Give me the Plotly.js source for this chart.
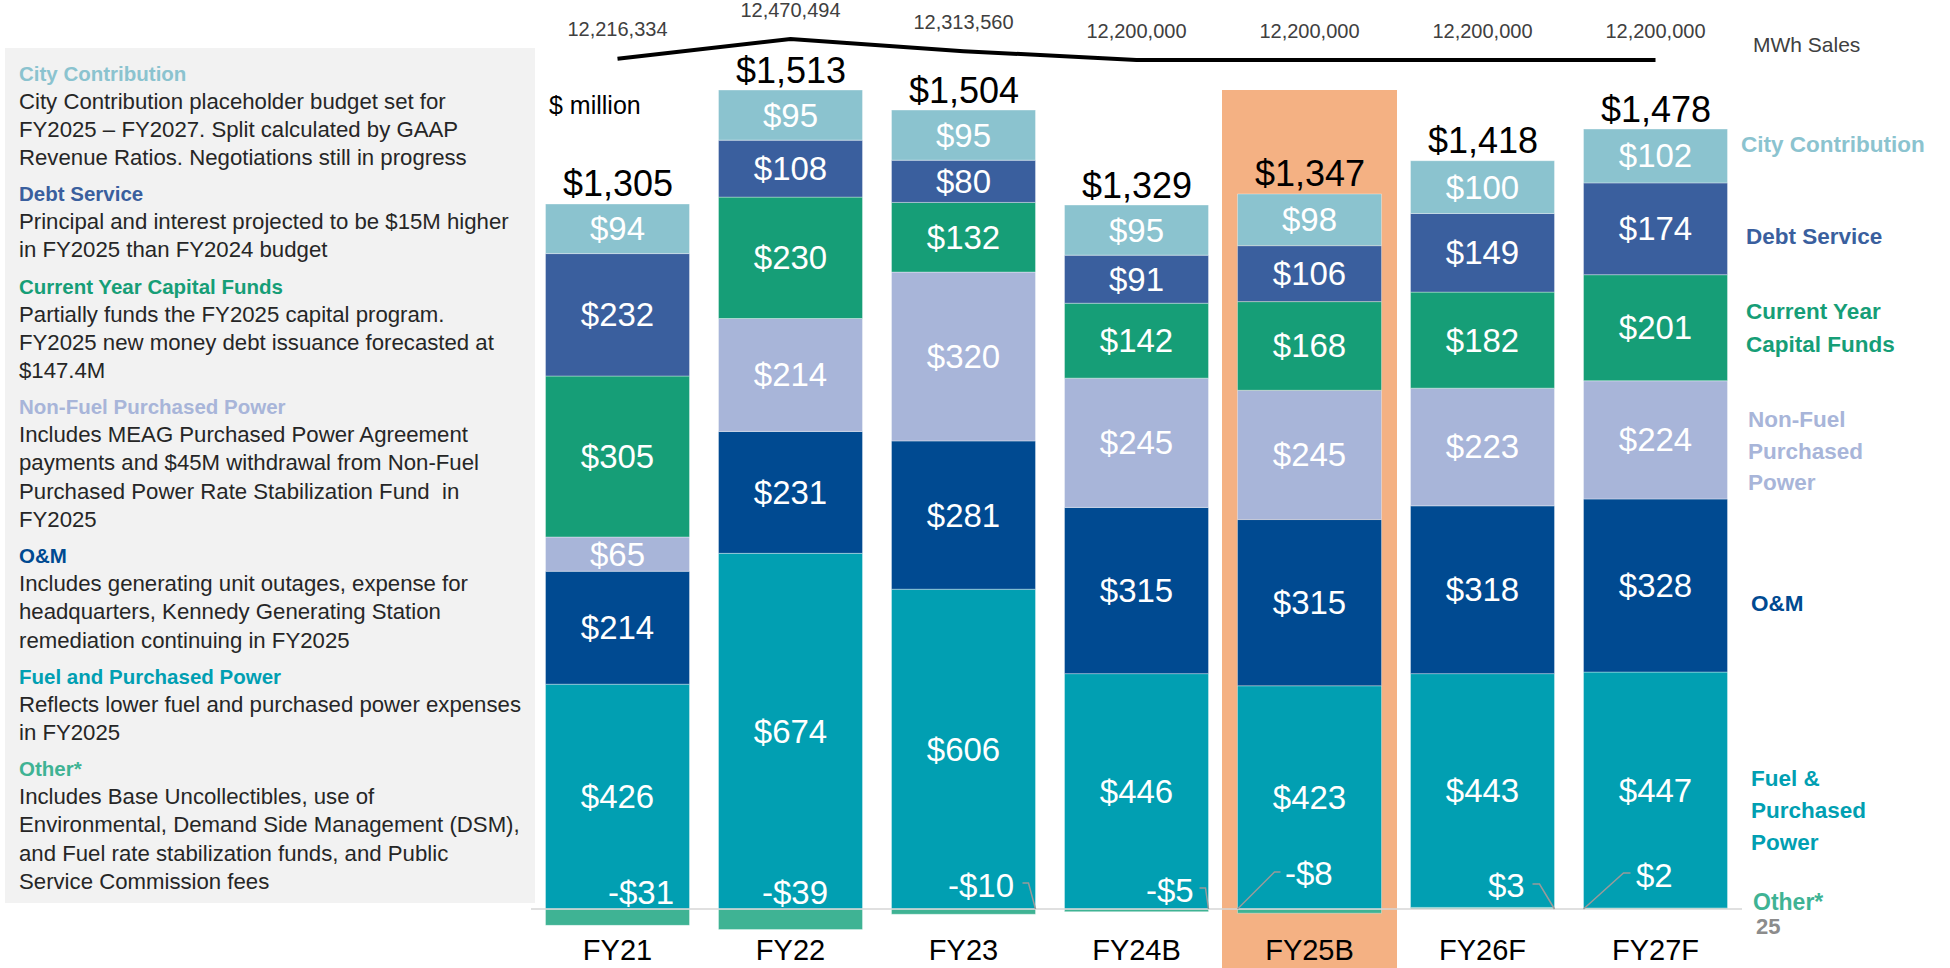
<!DOCTYPE html>
<html><head><meta charset="utf-8">
<script src="https://cdn.plot.ly/plotly-3.0.1.min.js"></script>
<style>html,body{margin:0;padding:0;background:#fff;}#chart{width:1950px;height:968px;}</style>
</head><body><div id="chart"></div>
<script>
// ---------------- DATA ----------------
const categories = ['FY21','FY22','FY23','FY24B','FY25B','FY26F','FY27F'];
const cityContribution = [94, 95, 95, 95, 98, 100, 102];
const debtService      = [232, 108, 80, 91, 106, 149, 174];
const capitalFunds     = [305, 230, 132, 142, 168, 182, 201];
const nonFuelPower     = [65, 214, 320, 245, 245, 223, 224];
const oAndM            = [214, 231, 281, 315, 315, 318, 328];
const fuelPower        = [426, 674, 606, 446, 423, 443, 447];
const other            = [-31, -39, -10, -5, -8, 3, 2];
const mwhSales = [12216334, 12470494, 12313560, 12200000, 12200000, 12200000, 12200000];
const highlightCategory = 'FY25B';

const seriesNames = ['Other*','Fuel & Purchased Power','O&M','Non-Fuel Purchased Power','Current Year Capital Funds','Debt Service','City Contribution'];

// ---------------- STYLE ----------------
const C = {
  city:'#8BC3CF', debt:'#3A5F9E', cap:'#169E77', nonfuel:'#A8B5D9',
  om:'#004A91', fuel:'#019FB2', other:'#3FB394', hi:'#F4B183', panel:'#F2F2F2'
};
const FONT = 'Liberation Sans, Arial, sans-serif';
const W = 1950, H = 968;
const M = {l:531, r:208, t:0, b:38};
const plotW = W - M.l - M.r, plotH = H - M.t - M.b;
const px2x = px => (px - M.l) / plotW;
const py2y = py => (plotH - (py - M.t)) / plotH;
const BAR_W = 144/173;
const HI_W = 175/173;

const idx = categories.map((c,i)=>i);
const series = [
  {name:seriesNames[0], v:other, color:C.other, label:false},
  {name:seriesNames[1], v:fuelPower, color:C.fuel, label:true},
  {name:seriesNames[2], v:oAndM, color:C.om, label:true},
  {name:seriesNames[3], v:nonFuelPower, color:C.nonfuel, label:true},
  {name:seriesNames[4], v:capitalFunds, color:C.cap, label:true},
  {name:seriesNames[5], v:debtService, color:C.debt, label:true},
  {name:seriesNames[6], v:cityContribution, color:C.city, label:true}
];

const traces = series.map(s => ({
  type:'bar', x:idx, y:s.v, name:s.name, width:BAR_W,
  marker:{color:s.color, line:{color:'rgba(255,255,255,0.35)', width:1}},
  text: s.label ? s.v.map(v=>'$'+v) : null,
  textposition: s.label ? 'inside' : 'none',
  insidetextanchor:'middle', textangle:0, constraintext:'none',
  textfont:{family:FONT, size:33, color:'#ffffff'},
  hoverinfo:'skip', showlegend:false
}));

traces.push({
  type:'scatter', x:idx, y:mwhSales, yaxis:'y2', mode:'lines+markers+text',
  line:{color:'#000000', width:4}, marker:{size:26, opacity:0},
  text: mwhSales.map(v=>v.toLocaleString('en-US')), textposition:'top center',
  textfont:{family:FONT, size:20, color:'#404040'}, cliponaxis:false,
  hoverinfo:'skip', showlegend:false
});

const annotations = [];
const shapes = [];

// highlight column
const hi = categories.indexOf(highlightCategory);
shapes.push({type:'rect', layer:'below', xref:'x', yref:'paper',
  x0:hi-HI_W/2, x1:hi+HI_W/2, y0:py2y(968), y1:py2y(90), fillcolor:C.hi, line:{width:0}});

// left panel
shapes.push({type:'rect', layer:'below', xref:'paper', yref:'paper',
  x0:px2x(5), x1:px2x(535), y0:py2y(903), y1:py2y(48), fillcolor:C.panel, line:{width:0}});

// baseline
shapes.push({type:'line', layer:'above', xref:'paper', yref:'y', x0:0, x1:1, y0:0, y1:0,
  line:{color:'#d6d6d6', width:1.5}});

// totals
idx.forEach(i=>{
  const total = series.reduce((a,s)=>a+s.v[i],0);
  const top = series.reduce((a,s)=>a+Math.max(0,s.v[i]),0);
  annotations.push({xref:'x', yref:'y', x:i, y:top, yshift:20, yanchor:'middle', showarrow:false,
    text:'$'+total.toLocaleString('en-US'), font:{family:FONT, size:36, color:'#000'}});
});

// other labels + leader lines
const otherStyle = [
  {dx:23, dy:17},
  {dx:4, dy:17},
  {dx:17, dy:24, edge:1, path:[[-13,26],[-7,26],[0,0]]},
  {dx:33, dy:19, edge:1, path:[[-9,21],[-3,21],[0,0]]},
  {dx:-1, dy:36, edge:-1, path:[[0,0],[37,37],[43,37]]},
  {dx:24, dy:24, edge:1, path:[[-22,25],[-15,25],[0,0]]},
  {dx:-1, dy:34, edge:-1, path:[[0,0],[40,36],[47,36]]}
];
idx.forEach(i=>{
  const v = other[i], st = otherStyle[i];
  annotations.push({xref:'x', yref:'y', x:i, y:0, xshift:st.dx, yshift:st.dy, yanchor:'middle', showarrow:false,
    text:(v<0?'-$':'$')+Math.abs(v), font:{family:FONT, size:33, color:'#fff'}});
  if (st.path) {
    shapes.push({type:'path', layer:'above', xref:'x', yref:'y', xsizemode:'pixel', ysizemode:'pixel',
      xanchor:i + st.edge*BAR_W/2, yanchor:0,
      path:'M '+st.path.map(p=>p[0]+','+p[1]).join(' L '),
      line:{color:'#9a9a9a', width:1.5}});
  }
});

// $ million, MWh Sales
annotations.push({xref:'paper', yref:'paper', x:px2x(547), y:py2y(105), xanchor:'left', yanchor:'middle',
  showarrow:false, text:'$ million', font:{family:FONT, size:25, color:'#000'}});
annotations.push({xref:'paper', yref:'paper', x:px2x(1751), y:py2y(45), xanchor:'left', yanchor:'middle',
  showarrow:false, text:'MWh Sales', font:{family:FONT, size:21, color:'#404040'}});

// left notes
const notes = [
  {title:'City Contribution', color:C.city, lines:['City Contribution placeholder budget set for','FY2025 – FY2027. Split calculated by GAAP','Revenue Ratios. Negotiations still in progress']},
  {title:'Debt Service', color:C.debt, lines:['Principal and interest projected to be $15M higher','in FY2025 than FY2024 budget']},
  {title:'Current Year Capital Funds', color:C.cap, lines:['Partially funds the FY2025 capital program.','FY2025 new money debt issuance forecasted at','$147.4M']},
  {title:'Non-Fuel Purchased Power', color:C.nonfuel, lines:['Includes MEAG Purchased Power Agreement','payments and $45M withdrawal from Non-Fuel','Purchased Power Rate Stabilization Fund  in','FY2025']},
  {title:'O&M', color:C.om, lines:['Includes generating unit outages, expense for','headquarters, Kennedy Generating Station','remediation continuing in FY2025']},
  {title:'Fuel and Purchased Power', color:C.fuel, lines:['Reflects lower fuel and purchased power expenses','in FY2025']},
  {title:'Other*', color:C.other, lines:['Includes Base Uncollectibles, use of','Environmental, Demand Side Management (DSM),','and Fuel rate stabilization funds, and Public','Service Commission fees']}
];
let ly = 73;
notes.forEach((n,k)=>{
  if (k>0) ly += 36;
  annotations.push({xref:'paper', yref:'paper', x:px2x(17), y:py2y(ly), xanchor:'left', yanchor:'middle',
    showarrow:false, text:'<b>'+n.title+'</b>', font:{family:FONT, size:20.5, color:n.color}});
  n.lines.forEach(t=>{
    ly += 28.2;
    annotations.push({xref:'paper', yref:'paper', x:px2x(17), y:py2y(ly), xanchor:'left', yanchor:'middle',
      showarrow:false, text:t, font:{family:FONT, size:22.2, color:'#262626'}});
  });
});

// right labels
const rightLabels = [
  {lines:['City Contribution'], color:C.city, x:1739, y:145},
  {lines:['Debt Service'], color:C.debt, x:1744, y:236},
  {lines:['Current Year','Capital Funds'], color:C.cap, x:1744, y:312},
  {lines:['Non-Fuel','Purchased','Power'], color:C.nonfuel, x:1746, y:419},
  {lines:['O&M'], color:C.om, x:1749, y:603},
  {lines:['Fuel &','Purchased','Power'], color:C.fuel, x:1749, y:778}
];
rightLabels.forEach(r=>{
  r.lines.forEach((t,j)=>{
    annotations.push({xref:'paper', yref:'paper', x:px2x(r.x), y:py2y(r.y+32*j), xanchor:'left', yanchor:'middle',
      showarrow:false, text:'<b>'+t+'</b>', font:{family:FONT, size:22.5, color:r.color}});
  });
});
annotations.push({xref:'paper', yref:'paper', x:px2x(1751), y:py2y(902), xanchor:'left', yanchor:'middle',
  showarrow:false, text:'<b>Other*</b>', font:{family:FONT, size:23, color:C.other}});
annotations.push({xref:'paper', yref:'paper', x:px2x(1754), y:py2y(926), xanchor:'left', yanchor:'middle',
  showarrow:false, text:'<b>25</b>', font:{family:FONT, size:22, color:'#8c8c8c'}});

const layout = {
  width:W, height:H, margin:{l:M.l, r:M.r, t:M.t, b:M.b, autoexpand:false},
  paper_bgcolor:'#ffffff', plot_bgcolor:'rgba(0,0,0,0)',
  barmode:'relative', showlegend:false,
  xaxis:{range:[-0.5, 6.5], tickvals:idx, ticktext:categories, showgrid:false, zeroline:false, showline:false,
    ticks:'', tickfont:{family:FONT, size:29, color:'#000'}, fixedrange:true},
  yaxis:{domain:[0, py2y(90)], range:[-39.79, 1552], visible:false, fixedrange:true},
  yaxis2:{domain:[py2y(80), 1], range:[11942380, 12972860], visible:false, anchor:'x', fixedrange:true},
  shapes:shapes, annotations:annotations,
  font:{family:FONT}
};

Plotly.newPlot('chart', traces, layout, {staticPlot:true, displayModeBar:false});
</script>
</body></html>
